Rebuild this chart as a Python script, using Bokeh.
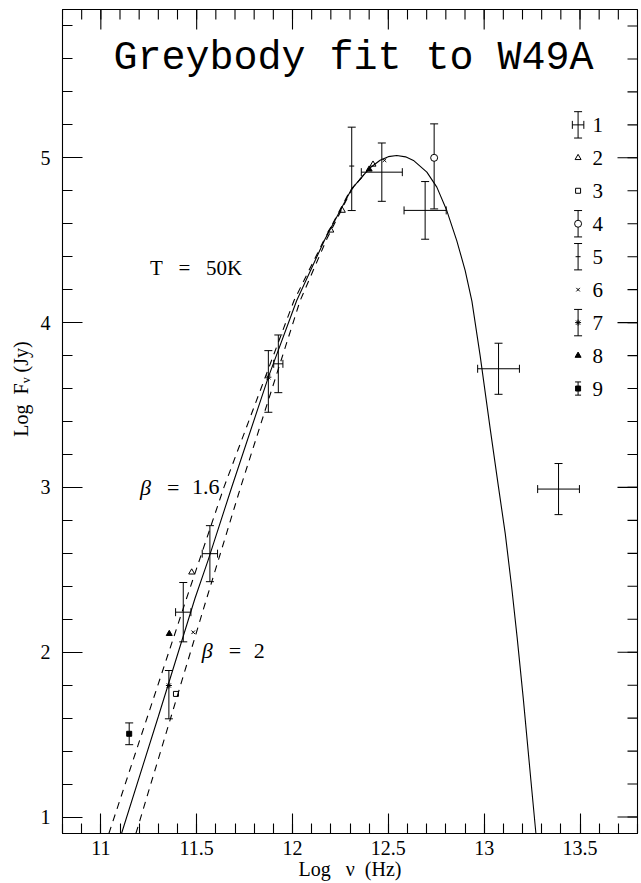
import math
from bokeh.plotting import figure
from bokeh.models import (Range1d, LinearAxis, Whisker, TeeHead, ColumnDataSource,
                          Label, FixedTicker)
from bokeh.core.properties import value
from bokeh.embed import file_html
from bokeh.resources import INLINE

# ---------------- data ----------------
# greybody fit (solid)
fit_x = [11.108, 11.300, 11.491, 11.559, 11.682, 11.874, 12.022, 12.170, 12.309, 12.400,
         12.457, 12.500, 12.544, 12.590, 12.631, 12.701, 12.753, 12.805, 12.857, 12.901,
         12.936, 12.979, 13.031, 13.075, 13.110, 13.144, 13.172, 13.204, 13.244, 13.270]
fit_y = [0.90, 1.61, 2.326, 2.556, 2.998, 3.669, 4.134, 4.508, 4.812, 4.935,
         4.985, 5.007, 5.014, 5.006, 4.984, 4.913, 4.822, 4.680, 4.498, 4.316,
         4.13, 3.80, 3.36, 3.00, 2.72, 2.39, 2.09, 1.72, 1.22, 0.90]
# beta = 1.6 (dashed)
b16_x = [11.042, 11.447, 11.642, 12.008, 12.160, 12.300, 12.400]
b16_y = [0.90, 2.326, 3.00, 4.134, 4.49, 4.80, 4.935]
# beta = 2 (dashed)
b20_x = [11.183, 11.552, 11.729, 12.040, 12.180, 12.310, 12.400]
b20_y = [0.90, 2.326, 3.00, 4.134, 4.51, 4.81, 4.935]

# set 1: x and y error bars, no marker
s1_x = [12.466, 12.692, 13.075, 13.388, 11.926, 11.569, 11.430]
s1_y = [4.913, 4.681, 3.720, 2.990, 3.750, 2.598, 2.243]
s1_xerr = [0.107, 0.110, 0.109, 0.109, 0.024, 0.040, 0.040]
s1_yerr = [0.177, 0.175, 0.155, 0.155, 0.175, 0.170, 0.180]
# set 2: open triangles
s2_x = [11.474, 12.200, 12.260, 12.420]
s2_y = [2.485, 4.560, 4.680, 4.960]
# set 3: open squares
s3_x = [11.392]
s3_y = [1.747]
# set 4: open circle with y errors
s4_x = [12.739]
s4_y = [5.000]
s4_lo = [4.690]
s4_hi = [5.206]
# set 5: y error bars with a tick
s5_x = [12.309]
s5_y = [4.950]
s5_lo = [4.680]
s5_hi = [5.186]
# set 6: crosses
s6_x = [11.482, 12.480]
s6_y = [2.121, 4.985]
# set 7: asterisks with y errors
s7_x = [11.874, 11.355]
s7_y = [3.669, 1.798]
s7_lo = [3.456, 1.596]
s7_hi = [3.830, 1.889]
# set 8: filled triangles
s8_x = [11.357, 12.400]
s8_y = [2.112, 4.930]
# set 9: filled squares with y errors
s9_x = [11.148]
s9_y = [1.505]
s9_err = [0.066]

legend_labels = ["1", "2", "3", "4", "5", "6", "7", "8", "9"]
legend_rows = [5.2, 5.0, 4.8, 4.6, 4.4, 4.2, 4.0, 3.8, 3.6]

X0, X1 = 10.8, 13.8
Y0, Y1 = 0.9, 5.9
x_major = [11, 11.5, 12, 12.5, 13, 13.5]
x_minor = [round(10.8 + 0.1 * i, 1) for i in range(31)]
y_major = [1, 2, 3, 4, 5]
y_minor = [round(1.0 + 0.2 * i, 1) for i in range(25)]

NB = "\u00a0"
FONT = "Liberation Serif"
tf = value(FONT)

# ---------------- figure ----------------
p = figure(width=641, height=883, x_range=Range1d(X0, X1), y_range=Range1d(Y0, Y1),
           output_backend="svg", toolbar_location=None,
           min_border_left=62, min_border_right=4, min_border_top=9, min_border_bottom=50,
           x_axis_location=None, y_axis_location=None)
p.background_fill_color = "white"
p.border_fill_color = "white"
p.outline_line_color = "black"
p.outline_line_width = 1.1
p.xgrid.visible = False
p.ygrid.visible = False


def make_axis(majors, minors, label_text, label_standoff, axis_standoff):
    ax = LinearAxis()
    ax.ticker = FixedTicker(ticks=majors, minor_ticks=minors)
    ax.major_tick_in = 20
    ax.major_tick_out = 0
    ax.minor_tick_in = 10
    ax.minor_tick_out = 0
    ax.axis_line_color = "black"
    ax.major_tick_line_color = "black"
    ax.minor_tick_line_color = "black"
    ax.major_tick_line_width = 1.1
    ax.minor_tick_line_width = 1.1
    ax.major_label_text_font = FONT
    ax.major_label_text_color = "black"
    ax.major_label_text_font_size = "20px"
    ax.major_label_standoff = label_standoff
    ax.axis_label = label_text
    ax.axis_label_text_font = FONT
    ax.axis_label_text_font_style = "normal"
    ax.axis_label_text_font_size = "20px"
    ax.axis_label_text_color = "black"
    ax.axis_label_standoff = axis_standoff
    return ax


p.add_layout(make_axis(x_major, x_minor, "Log" + NB * 3 + "\u03bd" + NB * 2 + "(Hz)", 7, 0), "below")
p.add_layout(make_axis(y_major, y_minor, NB * 13 + "Log" + NB * 2 + "F\u1d65" + NB + "(Jy)", 12, 6), "left")

# ticks on the top and right edges
p.ray(x=x_major, y=[Y1] * len(x_major), length=20, length_units="screen",
      angle=-math.pi / 2, line_color="black", line_width=1.1)
p.ray(x=x_minor, y=[Y1] * len(x_minor), length=10, length_units="screen",
      angle=-math.pi / 2, line_color="black", line_width=1.1)
p.ray(x=[X1] * len(y_major), y=y_major, length=20, length_units="screen",
      angle=math.pi, line_color="black", line_width=1.1)
p.ray(x=[X1] * len(y_minor), y=y_minor, length=10, length_units="screen",
      angle=math.pi, line_color="black", line_width=1.1)

# title
p.add_layout(Label(x=51, y=775, x_units="screen", y_units="screen", text="Greybody fit to W49A",
                   text_font="Liberation Mono", text_font_size="40px", text_baseline="middle",
                   text_align="left", text_color="black"))

# curves
p.line(fit_x, fit_y, line_color="black", line_width=1.1)
p.line(b16_x, b16_y, line_color="black", line_width=1.1, line_dash="7 6")
p.line(b20_x, b20_y, line_color="black", line_width=1.1, line_dash="7 6")

# annotations
p.text(x=[11.256], y=[4.33], text=["T" + NB * 3 + "=" + NB * 3 + "50K"], text_font=tf,
       text_font_size="21px", text_baseline="middle", text_color="black")
for bx, by, num in [(11.204, 3.0, "1.6"), (11.526, 2.01, "2")]:
    p.text(x=[bx], y=[by], text=["\u03b2"], text_font=tf, text_font_size="22px",
           text_font_style="italic", text_baseline="middle", text_color="black")
    p.text(x=[bx], y=[by], text=["="], x_offset=27, text_font=tf, text_font_size="22px",
           text_baseline="middle", text_color="black")
    p.text(x=[bx], y=[by], text=[num], x_offset=52, text_font=tf, text_font_size="22px",
           text_baseline="middle", text_color="black")


def vbars(xs, lo, hi, cap=8):
    src = ColumnDataSource(dict(x=xs, lo=lo, hi=hi))
    p.add_layout(Whisker(source=src, base="x", lower="lo", upper="hi", dimension="height",
                         line_color="black", line_width=1,
                         lower_head=TeeHead(size=cap, line_color="black", line_width=1),
                         upper_head=TeeHead(size=cap, line_color="black", line_width=1)))


def hbars(ys, lo, hi, cap=8):
    src = ColumnDataSource(dict(y=ys, lo=lo, hi=hi))
    p.add_layout(Whisker(source=src, base="y", lower="lo", upper="hi", dimension="width",
                         line_color="black", line_width=1,
                         lower_head=TeeHead(size=cap, line_color="black", line_width=1),
                         upper_head=TeeHead(size=cap, line_color="black", line_width=1)))


# set 1
vbars(s1_x, [a - b for a, b in zip(s1_y, s1_yerr)], [a + b for a, b in zip(s1_y, s1_yerr)])
hbars(s1_y, [a - b for a, b in zip(s1_x, s1_xerr)], [a + b for a, b in zip(s1_x, s1_xerr)])
# set 2
p.scatter(s2_x, s2_y, marker="triangle", size=6, fill_color=None, line_color="black")
# set 3
p.scatter(s3_x, s3_y, marker="square", size=5, fill_color=None, line_color="black")
# set 4
vbars(s4_x, s4_lo, s4_hi)
p.scatter(s4_x, s4_y, marker="circle", size=7, fill_color="white", line_color="black")
# set 5
vbars(s5_x, s5_lo, s5_hi)
p.scatter(s5_x, s5_y, marker="dash", size=5, line_color="black")
# set 6
p.scatter(s6_x, s6_y, marker="x", size=5, line_color="black")
# set 7
vbars(s7_x, s7_lo, s7_hi)
p.scatter(s7_x, s7_y, marker="asterisk", size=6, line_color="black")
# set 8
p.scatter(s8_x, s8_y, marker="triangle", size=6, fill_color="black", line_color="black")
# set 9
vbars(s9_x, [a - b for a, b in zip(s9_y, s9_err)], [a + b for a, b in zip(s9_y, s9_err)])
p.scatter(s9_x, s9_y, marker="square", size=5, fill_color="black", line_color="black")

# ---------------- legend (drawn in data space) ----------------
LX = 13.49
LT = 13.565
LE = 0.08
r = legend_rows
vbars([LX], [r[0] - LE], [r[0] + LE])
hbars([r[0]], [LX - 0.03], [LX + 0.03])
p.scatter([LX], [r[1]], marker="triangle", size=6, fill_color=None, line_color="black")
p.scatter([LX], [r[2]], marker="square", size=5, fill_color=None, line_color="black")
vbars([LX], [r[3] - LE], [r[3] + LE])
p.scatter([LX], [r[3]], marker="circle", size=7, fill_color="white", line_color="black")
vbars([LX], [r[4] - LE], [r[4] + LE])
p.scatter([LX], [r[4]], marker="dash", size=5, line_color="black")
p.scatter([LX], [r[5]], marker="x", size=5, line_color="black")
vbars([LX], [r[6] - LE], [r[6] + LE])
p.scatter([LX], [r[6]], marker="asterisk", size=6, line_color="black")
p.scatter([LX], [r[7]], marker="triangle", size=6, fill_color="black", line_color="black")
vbars([LX], [r[8] - 0.04], [r[8] + 0.04], cap=6)
p.scatter([LX], [r[8]], marker="square", size=5, fill_color="black", line_color="black")
p.text(x=[LT] * len(legend_labels), y=legend_rows, text=legend_labels, text_font=tf,
       text_font_size="21px", text_baseline="middle", text_color="black")

open("out.html", "w").write(file_html(p, INLINE))
